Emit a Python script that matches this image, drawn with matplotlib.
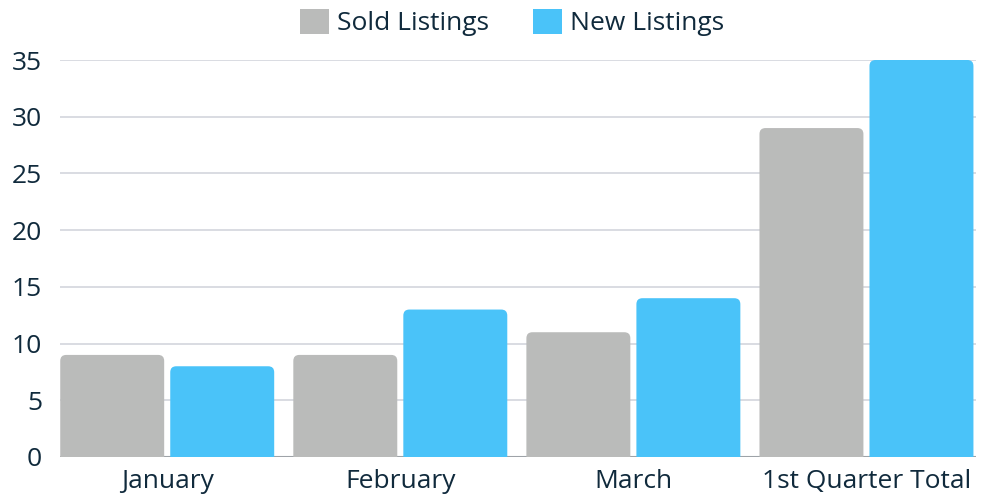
import matplotlib.pyplot as plt
from matplotlib.patches import FancyBboxPatch, Rectangle, Patch

plt.rcParams['font.family'] = ['Open Sans', 'DejaVu Sans']

months = ["January", "February", "March", "1st Quarter Total"]
sold = [9, 9, 11, 29]
new = [8, 13, 14, 35]

GRAY = "#BABBBA"
BLUE = "#4AC3F9"
TEXT = "#102A3C"

fig = plt.figure(figsize=(9.82, 4.97), dpi=100)
ax = fig.add_axes([60 / 982, 40 / 497, 916 / 982, 397 / 497])

w = 0.446
off = 0.236
x = list(range(len(months)))
ax.set_xlim(-0.46, 3.47)
ax.set_ylim(0, 35)

# px per data unit, for rounded corners
sx = 916 / 3.93
sy = 397 / 35
clip = Rectangle((-1, 0), 10, 60, transform=ax.transData)

for vals, d, color in [(sold, -off, GRAY), (new, off, BLUE)]:
    for xi, v in zip(x, vals):
        p = FancyBboxPatch((xi + d - w / 2, -2), w, v + 2,
                           boxstyle="round,pad=0,rounding_size=%f" % (6 / sx),
                           mutation_aspect=sx / sy,
                           fc=color, ec="none", zorder=3)
        ax.add_patch(p)
        p.set_clip_path(clip)

ax.set_yticks(range(0, 36, 5))
ax.grid(axis="y", color="#D3D6DD", lw=1.2, zorder=0)
ax.axhline(0, color="#9EA3A8", lw=1.5, zorder=2)
ax.set_xticks(x)
ax.set_xticklabels(months)
ax.tick_params(axis="both", length=0, labelsize=19, colors=TEXT)
ax.tick_params(axis="y", pad=13)
ax.tick_params(axis="x", pad=9)
for s in ax.spines.values():
    s.set_visible(False)

handles = [Patch(fc=GRAY, ec="none"), Patch(fc=BLUE, ec="none")]
fig.legend(handles, ["Sold Listings", "New Listings"], loc="upper center",
           bbox_to_anchor=(0.521, 1.03), ncol=2, frameon=False, fontsize=19,
           handlelength=1.1, handleheight=1.1, handletextpad=0.3,
           columnspacing=1.67, labelcolor=TEXT)

fig.savefig("out.png", dpi=100)
